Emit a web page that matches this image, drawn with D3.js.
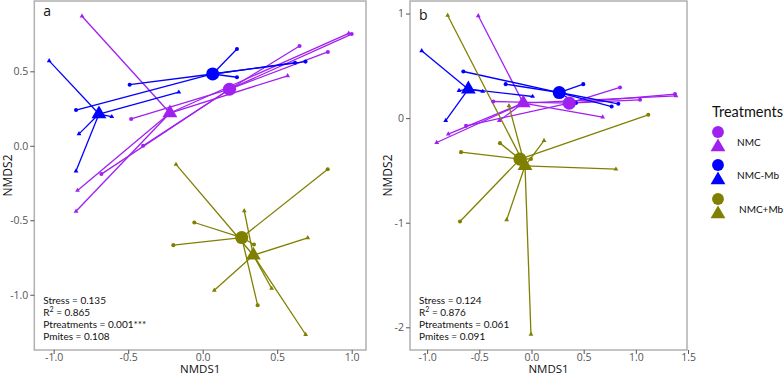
<!DOCTYPE html>
<html>
<head>
<meta charset="utf-8">
<script src="https://cdn.jsdelivr.net/npm/d3@7"></script>
<style>
  body { margin: 0; background: #fff; }
  svg { display: block; }
  text { font-family: "Open Sans", "DejaVu Sans", sans-serif; }
  .note { font-family: Lato, "Open Sans", sans-serif; font-size: 10px; fill: #111; }
</style>
</head>
<body>
<div id="chart"></div>
<script>
var width = 784;
var height = 375;

// treatments and colours
var groups = ["NMC", "NMC-Mb", "NMC+Mb"];
var groupColors = ["#a020f0", "#0000ff", "#808000"];

// panel a : centroids [group, shape, NMDS1, NMDS2]
var aCentroids = [
  ["NMC", "circle", 0.18, 0.38],
  ["NMC", "triangle", -0.22, 0.22],
  ["NMC-Mb", "circle", 0.067, 0.482],
  ["NMC-Mb", "triangle", -0.696, 0.213],
  ["NMC+Mb", "circle", 0.262, -0.616],
  ["NMC+Mb", "triangle", 0.34, -0.735]
];

// panel a : samples [group, shape, NMDS1, NMDS2]
var aSamples = [
  ["NMC", "circle", -0.48, 0.18],
  ["NMC", "circle", -0.40, 0.00],
  ["NMC", "circle", -0.68, -0.19],
  ["NMC", "circle", 0.84, 0.63],
  ["NMC", "circle", 0.65, 0.67],
  ["NMC", "circle", 1.00, 0.75],
  ["NMC", "triangle", -0.81, 0.87],
  ["NMC", "triangle", 0.98, 0.755],
  ["NMC", "triangle", 0.57, 0.47],
  ["NMC", "triangle", -0.84, -0.30],
  ["NMC", "triangle", -0.85, -0.44],
  ["NMC-Mb", "circle", -0.49, 0.41],
  ["NMC-Mb", "circle", -0.85, 0.24],
  ["NMC-Mb", "circle", 0.23, 0.65],
  ["NMC-Mb", "circle", 0.23, 0.46],
  ["NMC-Mb", "circle", 0.69, 0.565],
  ["NMC-Mb", "circle", 0.62, 0.558],
  ["NMC-Mb", "triangle", -1.03, 0.57],
  ["NMC-Mb", "triangle", -0.16, 0.36],
  ["NMC-Mb", "triangle", -0.61, 0.195],
  ["NMC-Mb", "triangle", -0.83, 0.08],
  ["NMC-Mb", "triangle", -0.85, -0.17],
  ["NMC+Mb", "circle", -0.056, -0.515],
  ["NMC+Mb", "circle", -0.197, -0.667],
  ["NMC+Mb", "circle", 0.839, -0.157],
  ["NMC+Mb", "circle", 0.369, -1.071],
  ["NMC+Mb", "circle", 0.344, -0.663],
  ["NMC+Mb", "triangle", 0.279, -0.437],
  ["NMC+Mb", "triangle", 0.705, -0.618],
  ["NMC+Mb", "triangle", 0.078, -0.97],
  ["NMC+Mb", "triangle", 0.463, -0.958],
  ["NMC+Mb", "triangle", 0.691, -1.267],
  ["NMC+Mb", "triangle", -0.179, -0.125]
];

// panel b : centroids
var bCentroids = [
  ["NMC", "circle", 0.362, 0.144],
  ["NMC", "triangle", -0.079, 0.144],
  ["NMC-Mb", "circle", 0.266, 0.245],
  ["NMC-Mb", "triangle", -0.605, 0.277],
  ["NMC+Mb", "circle", -0.11, -0.392],
  ["NMC+Mb", "triangle", -0.062, -0.456]
];

// panel b : samples
var bSamples = [
  ["NMC", "circle", -0.366, 0.159],
  ["NMC", "circle", -0.627, -0.074],
  ["NMC", "circle", 0.848, 0.293],
  ["NMC", "circle", 1.375, 0.23],
  ["NMC", "circle", 1.04, 0.175],
  ["NMC", "triangle", -0.51, 0.979],
  ["NMC", "triangle", -0.797, -0.153],
  ["NMC", "triangle", -0.308, -0.023],
  ["NMC", "triangle", 1.384, 0.213],
  ["NMC", "triangle", 0.682, 0.01],
  ["NMC", "triangle", -0.908, -0.233],
  ["NMC-Mb", "circle", -0.653, 0.446],
  ["NMC-Mb", "circle", -0.247, 0.325],
  ["NMC-Mb", "circle", 0.496, 0.325],
  ["NMC-Mb", "circle", 0.426, 0.144],
  ["NMC-Mb", "circle", 0.768, 0.111],
  ["NMC-Mb", "circle", 0.832, 0.137],
  ["NMC-Mb", "triangle", -1.052, 0.644],
  ["NMC-Mb", "triangle", -0.822, -0.023],
  ["NMC-Mb", "triangle", -0.694, 0.264],
  ["NMC-Mb", "triangle", -0.467, 0.255],
  ["NMC-Mb", "triangle", 0.011, 0.207],
  ["NMC+Mb", "circle", -0.302, -0.239],
  ["NMC+Mb", "circle", -0.675, -0.325],
  ["NMC+Mb", "circle", -0.685, -0.989],
  ["NMC+Mb", "circle", 1.119, 0.032],
  ["NMC+Mb", "circle", -0.005, -0.39],
  ["NMC+Mb", "triangle", -0.803, 0.982],
  ["NMC+Mb", "triangle", -0.216, 0.118],
  ["NMC+Mb", "triangle", -0.238, -0.973],
  ["NMC+Mb", "triangle", -0.005, -2.067],
  ["NMC+Mb", "triangle", 0.12, -0.214],
  ["NMC+Mb", "triangle", 0.809, -0.488]
];

// tick values
var aXTicks = [-1.0, -0.5, 0.0, 0.5, 1.0];
var aYTicks = [-1.0, -0.5, 0.0, 0.5];
var bXTicks = [-1.0, -0.5, 0.0, 0.5, 1.0, 1.5];
var bYTicks = [-2, -1, 0, 1];

// stats text
var aStats = ["0.135", "0.865", "0.001***", "0.108"];
var bStats = ["0.124", "0.876", "0.061", "0.091"];

var color = d3.scaleOrdinal().domain(groups).range(groupColors);

var svg = d3.select("#chart")
            .append("svg")
            .attr("width", width)
            .attr("height", height);

function hyphen(fmt) {
    return function(d) { return d3.format(fmt)(d).replace("\u2212", "-"); };
}

function drawPanel(opt) {
    var x = d3.scaleLinear().domain(opt.xDomain).range([opt.left, opt.right]);
    var y = d3.scaleLinear().domain(opt.yDomain).range([opt.bottom, opt.top]);

    var g = svg.append("g");

    // lines from each sample to its centroid
    var cent = {};
    opt.centroids.forEach(function(c) { cent[c[0] + "|" + c[1]] = c; });

    g.append("g").selectAll("line")
        .data(opt.samples)
        .join("line")
        .attr("x1", function(d) { return x(d[2]); })
        .attr("y1", function(d) { return y(d[3]); })
        .attr("x2", function(d) { return x(cent[d[0] + "|" + d[1]][2]); })
        .attr("y2", function(d) { return y(cent[d[0] + "|" + d[1]][3]); })
        .attr("stroke", function(d) { return color(d[0]); })
        .attr("stroke-width", 1.3);

    // small sample markers
    g.append("g").selectAll("path")
        .data(opt.samples)
        .join("path")
        .attr("transform", function(d) { return "translate(" + x(d[2]) + "," + y(d[3]) + ")"; })
        .attr("d", function(d) {
            return d[1] == "circle" ? d3.symbol().type(d3.symbolCircle).size(13)()
                                    : d3.symbol().type(d3.symbolTriangle).size(10)();
        })
        .attr("fill", function(d) { return color(d[0]); });

    // centroids
    g.append("g").selectAll("path")
        .data(opt.centroids)
        .join("path")
        .attr("transform", function(d) { return "translate(" + x(d[2]) + "," + y(d[3]) + ")"; })
        .attr("d", function(d) {
            return d[1] == "circle" ? d3.symbol().type(d3.symbolCircle).size(135)()
                                    : d3.symbol().type(d3.symbolTriangle).size(95)();
        })
        .attr("fill", function(d) { return color(d[0]); });

    // frame
    g.append("rect")
        .attr("x", opt.left).attr("y", opt.top)
        .attr("width", opt.right - opt.left).attr("height", opt.bottom - opt.top)
        .attr("fill", "none").attr("stroke", "#b0b0b0").attr("stroke-width", 1.5);

    var xAxis = g.append("g")
        .attr("transform", "translate(0," + opt.bottom + ")")
        .call(d3.axisBottom(x).tickValues(opt.xTicks).tickFormat(hyphen(opt.xFmt)).tickSize(4).tickPadding(0));
    var yAxis = g.append("g")
        .attr("transform", "translate(" + opt.left + ",0)")
        .call(d3.axisLeft(y).tickValues(opt.yTicks).tickFormat(hyphen(opt.yFmt)).tickSize(4).tickPadding(2));

    [xAxis, yAxis].forEach(function(ax) {
        ax.select(".domain").remove();
        ax.selectAll(".tick line").attr("stroke", "#555");
        ax.selectAll(".tick text")
            .attr("fill", "#555")
            .style("font-family", "'Open Sans', sans-serif")
            .style("font-size", "10.5px");
    });

    // axis titles
    g.append("text")
        .attr("x", (opt.left + opt.right) / 2).attr("y", 372.5)
        .attr("text-anchor", "middle")
        .style("font-size", "11.5px").attr("fill", "#111")
        .text("NMDS1");
    g.append("text")
        .attr("transform", "translate(" + opt.ytitleX + "," + ((opt.top + opt.bottom) / 2) + ") rotate(-90)")
        .attr("text-anchor", "middle")
        .attr("dy", "0.35em")
        .style("font-size", "12px").attr("fill", "#111")
        .text("NMDS2");

    // panel letter
    g.append("text")
        .attr("x", opt.left + 9).attr("y", opt.letterY)
        .style("font-size", "14px").attr("fill", "#111")
        .text(opt.letter);

    // stats
    var s = g.append("text").attr("class", "note")
        .attr("x", opt.left + 9).attr("y", 304);
    s.append("tspan").text("Stress = " + opt.stats[0]);
    s.append("tspan").attr("x", opt.left + 9).attr("dy", 12.2).text("R");
    s.append("tspan").attr("dy", -4).style("font-size", "7px").text("2");
    s.append("tspan").attr("dy", 4).text(" = " + opt.stats[1]);
    s.append("tspan").attr("x", opt.left + 9).attr("dy", 12.2).text("Ptreatments = " + opt.stats[2]);
    s.append("tspan").attr("x", opt.left + 9).attr("dy", 11.8).text("Pmites = " + opt.stats[3]);
}

drawPanel({
    left: 34.3, right: 366, top: 1, bottom: 350,
    xDomain: [-1.13, 1.096], yDomain: [-1.371, 0.972],
    xTicks: aXTicks, yTicks: aYTicks, xFmt: ".1f", yFmt: ".1f",
    centroids: aCentroids, samples: aSamples,
    letter: "a", letterY: 16, ytitleX: 8, stats: aStats
});

drawPanel({
    left: 410, right: 687, top: 1, bottom: 350,
    xDomain: [-1.164, 1.49], yDomain: [-2.217, 1.12],
    xTicks: bXTicks, yTicks: bYTicks, xFmt: ".1f", yFmt: "d",
    centroids: bCentroids, samples: bSamples,
    letter: "b", letterY: 20, ytitleX: 388, stats: bStats
});

// legend
var legend = svg.append("g");
legend.append("text")
    .attr("x", 712).attr("y", 117)
    .style("font-family", "Lato, 'Open Sans', sans-serif")
    .style("font-size", "14.5px").attr("fill", "#111")
    .text("Treatments");

var legY = d3.scaleOrdinal().domain(groups).range([132, 165, 199]);

groups.forEach(function(gname) {
    var cy = legY(gname);
    legend.append("path")
        .attr("transform", "translate(718," + cy + ")")
        .attr("d", d3.symbol().type(d3.symbolCircle).size(110)())
        .attr("fill", color(gname));
    legend.append("path")
        .attr("transform", "translate(718," + (cy + 15) + ")")
        .attr("d", d3.symbol().type(d3.symbolTriangle).size(95)())
        .attr("fill", color(gname));
    legend.append("text")
        .attr("x", gname == "NMC+Mb" ? 739 : 737).attr("y", cy + 10)
        .attr("dy", "0.35em")
        .attr("class", "note")
        .style("font-size", "10px")
        .text(gname);
});
</script>
</body>
</html>
